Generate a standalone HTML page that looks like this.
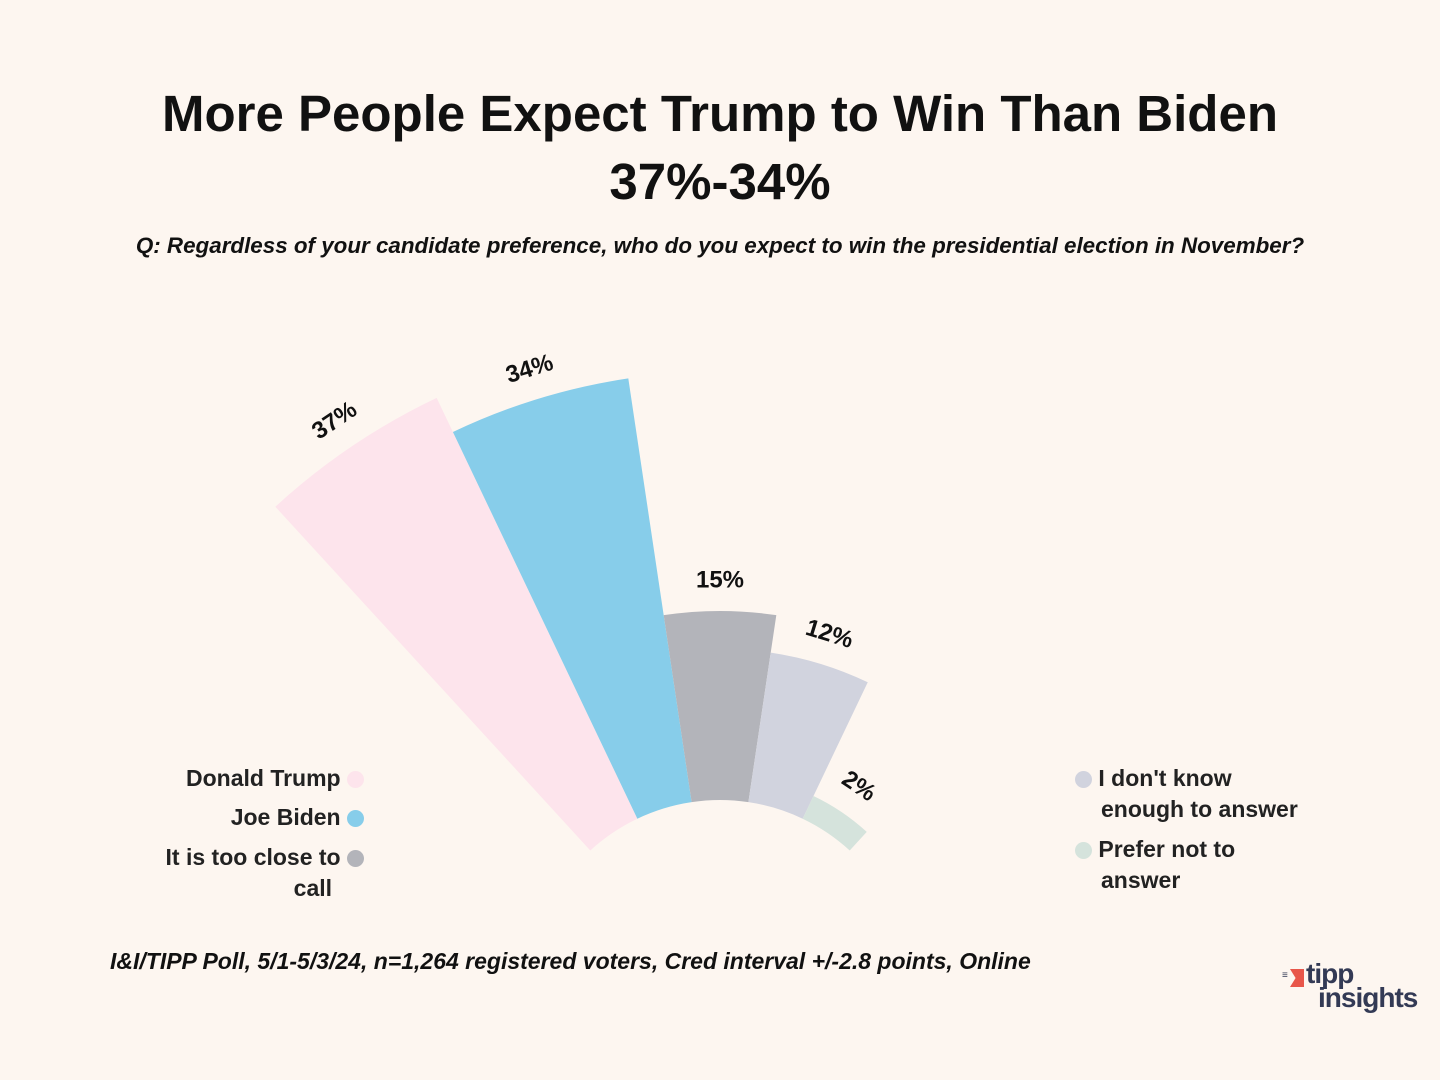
<!DOCTYPE html>
<html><head><meta charset="utf-8">
<style>
html,body{margin:0;padding:0;background:#fdf6f0;}
body{width:1440px;height:1080px;position:relative;overflow:hidden;font-family:"Liberation Sans","DejaVu Sans",sans-serif;color:#111;}
.title{position:absolute;left:0;width:1440px;text-align:center;font-weight:bold;font-size:51px;line-height:68px;top:80px;}
.sub{position:absolute;left:0;width:1440px;text-align:center;font-weight:bold;font-style:italic;font-size:22.4px;top:233px;}
.leg{position:absolute;font-size:23px;line-height:31px;font-weight:bold;color:#222;}
.dot{display:inline-block;width:17px;height:17px;border-radius:50%;vertical-align:middle;}
.foot{position:absolute;left:110px;top:948px;font-size:23px;font-style:italic;font-weight:bold;}
</style></head><body>
<div class="title">More People Expect Trump to Win Than Biden<br>37%-34%</div>
<div class="sub">Q: Regardless of your candidate preference, who do you expect to win the presidential election in November?</div>
<svg id="chart" width="1440" height="1080" style="position:absolute;left:0;top:0"></svg>

<div class="leg" style="right:1076px;top:763px;text-align:right">Donald Trump <span class="dot" style="background:#fde4ec"></span></div>
<div class="leg" style="right:1076px;top:802px;text-align:right">Joe Biden <span class="dot" style="background:#87cdea"></span></div>
<div class="leg" style="right:1076px;top:842px;text-align:right;width:230px">It is too close to <span class="dot" style="background:#b3b4ba"></span><br>call&nbsp;&nbsp;&nbsp;&nbsp;&nbsp;</div>
<div class="leg" style="left:1075px;top:763px"><span class="dot" style="background:#d1d3de"></span> I don't know<br><span style="padding-left:26px">enough to answer</span></div>
<div class="leg" style="left:1075px;top:834px"><span class="dot" style="background:#d5e3dc"></span> Prefer not to<br><span style="padding-left:26px">answer</span></div>

<div class="foot">I&amp;I/TIPP Poll, 5/1-5/3/24, n=1,264 registered voters, Cred interval +/-2.8 points, Online</div>

<div style="position:absolute;left:1282px;top:964px;">
 <div style="position:absolute;left:8px;top:5px;width:14px;height:18px;background:#e8564a;clip-path:polygon(0 0,100% 0,100% 100%,0 100%,40% 50%)"></div>
 <div style="position:absolute;left:0;top:6px;font-size:10px;color:#333a55;font-weight:bold">≡</div>
 <div style="position:absolute;left:24px;top:-4px;font-size:28px;font-weight:bold;color:#333a55;line-height:28px;letter-spacing:-1px">tipp</div>
 <div style="position:absolute;left:36px;top:20px;font-size:28px;font-weight:bold;color:#333a55;line-height:28px;letter-spacing:-1px">insights</div>
</div>

<script>
const categories=["Donald Trump","Joe Biden","It is too close to call","I don't know enough to answer","Prefer not to answer"];
const values=[37,34,15,12,2];
const labels=["37%","34%","15%","12%","2%"];
const colors=["#fde4ec","#87cdea","#b3b4ba","#d1d3de","#d5e3dc"];
const svg=document.getElementById('chart');
const NS='http://www.w3.org/2000/svg';
const cx=720,cy=992,r0=192,k=12.6,startA=-42.5,step=17;
function rScale(v){return r0+k*v;}
function pt(r,a){const t=a*Math.PI/180;return [cx+r*Math.sin(t),cy-r*Math.cos(t)];}
values.forEach((v,i)=>{
  const a0=startA+i*step,a1=a0+step,R=rScale(v);
  const p1=pt(r0,a0),p2=pt(R,a0),p3=pt(R,a1),p4=pt(r0,a1);
  const d=`M${p1}L${p2}A${R},${R} 0 0 1 ${p3}L${p4}A${r0},${r0} 0 0 0 ${p1}Z`;
  const p=document.createElementNS(NS,'path');
  p.setAttribute('d',d);p.setAttribute('fill',colors[i]);
  
  
  svg.appendChild(p);
  const am=a0+step/2,lp=pt(R+30,am);
  const t=document.createElementNS(NS,'text');
  t.setAttribute('x',lp[0]);t.setAttribute('y',lp[1]);
  t.setAttribute('text-anchor','middle');t.setAttribute('dominant-baseline','middle');
  t.setAttribute('font-size','24');t.setAttribute('font-weight','bold');
  t.setAttribute('font-family','Liberation Sans, sans-serif');t.setAttribute('fill','#111');
  t.setAttribute('transform',`rotate(${am} ${lp[0]} ${lp[1]})`);
  t.textContent=labels[i];
  
  
  svg.appendChild(t);
});
</script>
</body></html>
